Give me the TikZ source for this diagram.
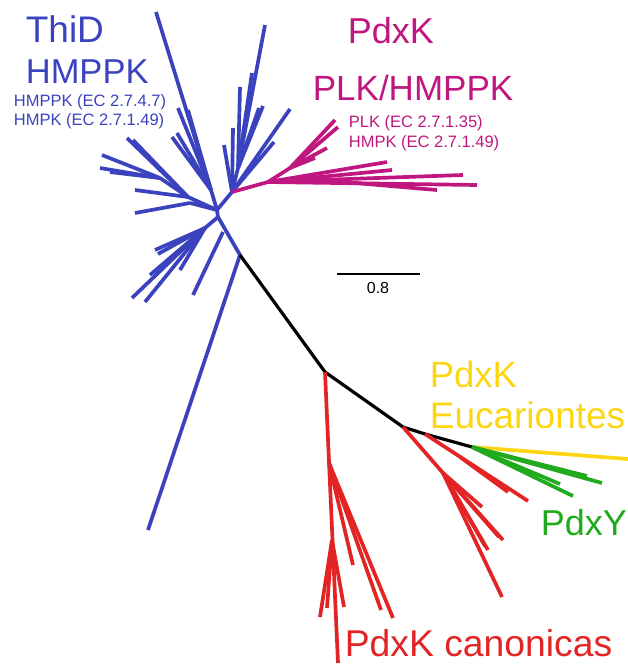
\documentclass[tikz,border=0pt]{standalone}
\usepackage{fontspec}
\setmainfont{Liberation Sans}
\usetikzlibrary{positioning}
\definecolor{thidblue}{RGB}{59,66,190}
\definecolor{plkmagenta}{RGB}{192,22,128}
\definecolor{pdxred}{RGB}{227,36,36}
\definecolor{eukyellow}{RGB}{252,214,18}
\definecolor{pdxygreen}{RGB}{34,170,30}

\begin{document}
\begin{tikzpicture}[x=1pt,y=-1pt,line width=3.7pt,line join=round,
  big label/.style={inner sep=0pt,anchor=base west,font=\fontsize{36}{40}\selectfont},
  small label/.style={inner sep=0pt,anchor=base west,font=\fontsize{16.5}{19}\selectfont}]
  \useasboundingbox (0,0) rectangle (628,665);

  % hubs of the tree
  \coordinate (c1) at (217,210);
  \coordinate (c2) at (218,217);
  \coordinate (u1) at (211,190);
  \coordinate (l1) at (188,197);
  \coordinate (l2) at (160,178);
  \coordinate (l4) at (190,203);
  \coordinate (d1) at (205,228);
  \coordinate (s1) at (223,232);
  \coordinate (r1) at (232,192);
  \coordinate (r2) at (238,168);
  \coordinate (m1) at (268,182);
  \coordinate (m2) at (320,180);
  \coordinate (m3) at (290,168);
  \coordinate (b) at (240,255);
  \coordinate (k1) at (325,372);
  \coordinate (k2) at (403,427);
  \coordinate (k3) at (425,434);
  \coordinate (k4) at (472,447);
  \coordinate (p1) at (329,463);
  \coordinate (p2) at (332,540);
  \coordinate (q1) at (443,473);
  \coordinate (q2) at (460,457);

  % ThiD / HMPPK
  \begin{scope}[thidblue]
    \draw (c1) -- (c2) -- (b) -- (148,530);
    \draw (c1) -- (u1) (c1) -- (l1) (c1) -- (l4) (c1) -- (r1) (r1) -- (r2) (l1) -- (l2);
    \foreach \x/\y in {156/12,178/108,188/110,172/137,177/133}
      \draw (u1) -- (\x,\y);
    \foreach \x/\y in {135/190,127/138,133/140}
      \draw (l1) -- (\x,\y);
    \foreach \x/\y in {102/155,100/168,110/172}
      \draw (l2) -- (\x,\y);
    \draw (l4) -- (135,213);
    \draw (c2) -- (d1);
    \foreach \x/\y in {155/250,158/254,132/298,145/302,180/270,150/275}
      \draw (d1) -- (\x,\y);
    \draw (s1) -- (193,295);
    \foreach \x/\y in {224/145,233/128,290/109,274/142}
      \draw (r1) -- (\x,\y);
    \foreach \x/\y in {265/25,252/73,240/87,259/108,263/106}
      \draw (r2) -- (\x,\y);
  \end{scope}

  % PdxK PLK/HMPPK
  \begin{scope}[plkmagenta]
    \draw (r1) -- (m1) -- (477,185);
    \draw (m1) -- (m2) (m1) -- (m3);
    \foreach \x/\y in {463/175,437/190}
      \draw (m2) -- (\x,\y);
    \foreach \x/\y in {387/162,392/170}
      \draw (m1) -- (\x,\y);
    \foreach \x/\y in {335/120,338/127,327/148,315/158}
      \draw (m3) -- (\x,\y);
  \end{scope}

  % backbone
  \draw[line width=3.2pt] (b) -- (k1) -- (k2) -- (k3) -- (k4);

  % PdxK canonicas
  \begin{scope}[pdxred]
    \draw (k1) -- (338,663);
    \foreach \x/\y in {393/618,381/610,353/565}
      \draw (p1) -- (\x,\y);
    \foreach \x/\y in {320/617,327/608,344/607}
      \draw (p2) -- (\x,\y);
    \draw (k2) -- (q1);
    \foreach \x/\y in {482/507,503/540,499/537,488/550,485/546,502/597}
      \draw (q1) -- (\x,\y);
    \draw (k3) -- (528,501);
    \draw (q2) -- (508,492);
  \end{scope}

  % PdxK Eucariontes and PdxY
  \draw[eukyellow] (k4) -- (628,459);
  \foreach \x/\y in {602/483,587/476,573/496,560/484}
    \draw[pdxygreen] (k4) -- (\x,\y);

  % scale bar
  \coordinate (bar) at (337,274);
  \coordinate (bar end) at (420,274);
  \draw[line width=1.6pt] (bar) -- (bar end);
  \node[inner sep=0pt,anchor=base,font=\fontsize{16}{19}\selectfont] (scale) at (378,293) {0.8};

  % labels
  \node[big label,thidblue,font=\fontsize{37}{40}\selectfont] (thid) at (24,42) {ThiD};
  \node[big label,thidblue,font=\fontsize{34.5}{40}\selectfont] (hmppk) at (24,83) {HMPPK};
  \node[small label,thidblue] (thid ec1) at (12,106) {HMPPK (EC 2.7.4.7)};
  \node[small label,thidblue] (thid ec2) at (12,125) {HMPK (EC 2.7.1.49)};
  \node[big label,plkmagenta] (pdxk) at (346,43) {PdxK};
  \node[big label,plkmagenta,font=\fontsize{35}{40}\selectfont] (plk) at (311,100) {PLK/HMPPK};
  \node[small label,plkmagenta] (plk ec1) at (347,127) {PLK (EC 2.7.1.35)};
  \node[small label,plkmagenta] (plk ec2) at (347,147) {HMPK (EC 2.7.1.49)};
  \node[big label,eukyellow,font=\fontsize{36.5}{40}\selectfont] (euk1) at (428,387) {PdxK};
  \node[big label,eukyellow,font=\fontsize{37}{40}\selectfont] (euk2) at (428,428) {Eucariontes};
  \node[big label,pdxygreen] (pdxy) at (539,535) {PdxY};
  \node[big label,pdxred,font=\fontsize{37.3}{40}\selectfont] (canon) at (343,656) {PdxK canonicas};
\end{tikzpicture}
\end{document}
